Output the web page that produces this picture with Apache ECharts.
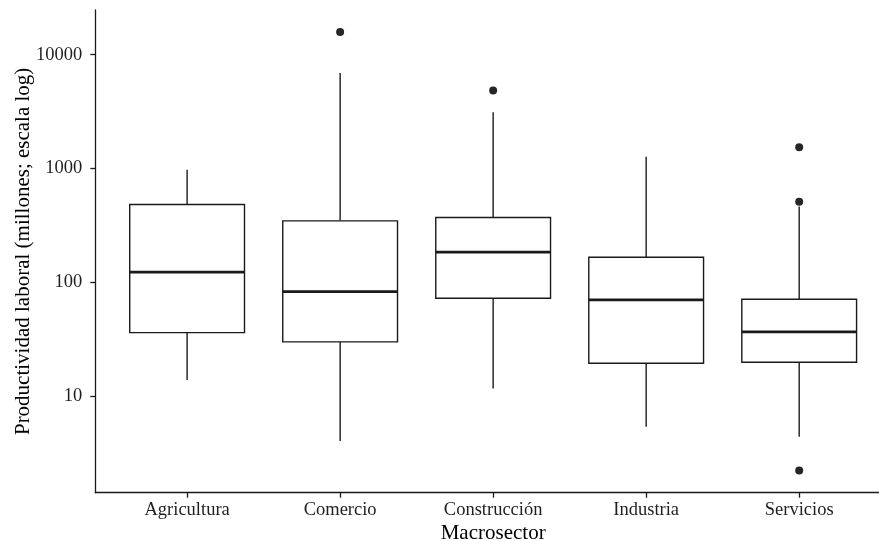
<!DOCTYPE html>
<html>
<head>
<meta charset="utf-8">
<script src="https://cdn.jsdelivr.net/npm/echarts@6/dist/echarts.min.js"></script>
<style>
html,body{margin:0;padding:0;background:#fff;}
#chart{width:879px;height:541px;}
</style>
</head>
<body>
<div id="chart"></div>
<script>
const categories = ['Agricultura', 'Comercio', 'Construcción', 'Industria', 'Servicios'];
const whiskerLow = [13.9, 4.05, 11.7, 5.4, 4.4];
const quartile1 = [36.2, 30.0, 72.6, 19.5, 19.9];
const medians = [123, 83, 184, 70.2, 36.7];
const quartile3 = [483, 347, 371, 166, 71.1];
const whiskerHigh = [975, 6890, 3130, 1268, 464];
const outlierSector = ['Comercio', 'Construcción', 'Servicios', 'Servicios', 'Servicios'];
const outlierValue = [15800, 4850, 1542, 510, 2.22];
const yTicks = [10, 100, 1000, 10000];

const positions = categories.map((c, i) => i + 1);
const boxData = categories.map((c, i) => [positions[i], whiskerLow[i], quartile1[i], medians[i], quartile3[i], whiskerHigh[i]]);
const outlierData = outlierSector.map((s, i) => [categories.indexOf(s) + 1, outlierValue[i]]);

const FONT = '"Liberation Serif", "Times New Roman", serif';
const INK = '#1a1a1a';

function renderBox(params, api) {
  const x = api.value(0);
  const half = 0.375;
  const pLow = api.coord([x, api.value(1)]);
  const pQ1 = api.coord([x, api.value(2)]);
  const pMed = api.coord([x, api.value(3)]);
  const pQ3 = api.coord([x, api.value(4)]);
  const pHigh = api.coord([x, api.value(5)]);
  const left = api.coord([x - half, api.value(3)])[0];
  const right = api.coord([x + half, api.value(3)])[0];
  const lineStyle = { stroke: INK, lineWidth: 1.4 };
  return {
    type: 'group',
    children: [
      { type: 'line', shape: { x1: pHigh[0], y1: pHigh[1], x2: pQ3[0], y2: pQ3[1] }, style: lineStyle },
      { type: 'line', shape: { x1: pQ1[0], y1: pQ1[1], x2: pLow[0], y2: pLow[1] }, style: lineStyle },
      { type: 'rect', shape: { x: left, y: pQ3[1], width: right - left, height: pQ1[1] - pQ3[1] },
        style: { fill: '#ffffff', stroke: INK, lineWidth: 1.4 } },
      { type: 'line', shape: { x1: left, y1: pMed[1], x2: right, y2: pMed[1] },
        style: { stroke: INK, lineWidth: 2.8 } }
    ]
  };
}

const chart = echarts.init(document.getElementById('chart'), null, { renderer: 'canvas' });
chart.setOption({
  animation: false,
  backgroundColor: '#ffffff',
  grid: { left: 95.3, right: -12, top: 10, bottom: 48.3, containLabel: false, outerBoundsMode: 'none' },
  xAxis: {
    type: 'value',
    min: 0.4,
    max: 5.6,
    name: 'Macrosector',
    nameLocation: 'middle',
    nameGap: 30.5,
    nameMoveOverlap: false,
    nameTextStyle: { fontFamily: FONT, fontSize: 21, color: '#000' },
    axisLine: { show: true, onZero: false, lineStyle: { color: INK, width: 1.3 } },
    axisTick: { show: true, length: 5, customValues: positions, lineStyle: { color: INK, width: 1.3 } },
    axisLabel: {
      customValues: positions,
      margin: 7.5,
      fontFamily: FONT, fontSize: 18.5, color: '#1f1f1f',
      formatter: v => categories[Math.round(v) - 1] || ''
    },
    splitLine: { show: false }
  },
  yAxis: {
    type: 'log',
    logBase: 10,
    min: 1.42,
    max: 24700,
    name: 'Productividad laboral (millones; escala log)',
    nameLocation: 'middle',
    nameGap: 61,
    nameMoveOverlap: false,
    nameRotate: 90,
    nameTextStyle: { fontFamily: FONT, fontSize: 21, color: '#000' },
    axisLine: { show: true, lineStyle: { color: INK, width: 1.3 } },
    axisTick: { show: true, length: 5, customValues: yTicks, lineStyle: { color: INK, width: 1.3 } },
    axisLabel: {
      customValues: yTicks,
      margin: 13,
      fontFamily: FONT, fontSize: 18.5, color: '#1f1f1f',
      formatter: v => String(Math.round(v))
    },
    splitLine: { show: false },
    minorTick: { show: false }
  },
  series: [
    {
      type: 'custom',
      renderItem: renderBox,
      data: boxData,
      encode: { x: 0, y: [1, 2, 3, 4, 5] },
      z: 2
    },
    {
      type: 'scatter',
      data: outlierData,
      symbol: 'circle',
      symbolSize: 8,
      itemStyle: { color: '#262626', opacity: 1 },
      z: 3
    }
  ]
});
</script>
</body>
</html>
